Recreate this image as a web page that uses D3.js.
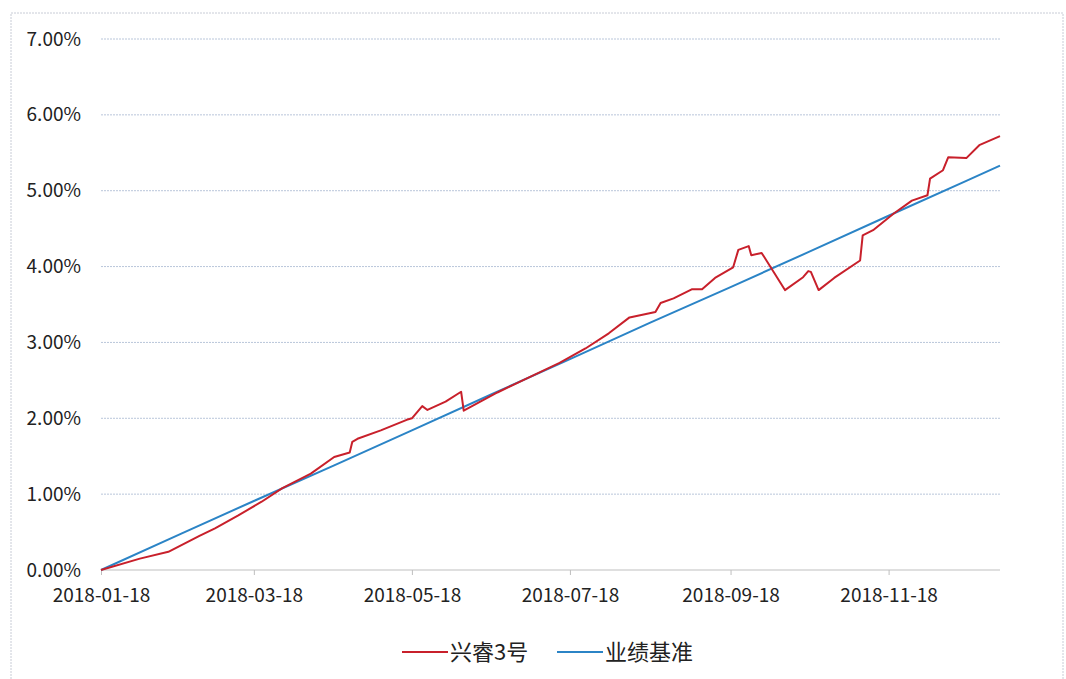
<!DOCTYPE html>
<html><head><meta charset="utf-8">
<script src="https://cdn.jsdelivr.net/npm/d3@7"></script>
<style>body{margin:0;background:#fff;} svg{display:block;}</style>
</head><body>
<svg id="c" width="1066" height="679"></svg>
<script>
const seriesNames = ["兴睿3号", "业绩基准"];
const redDates = ["2018-01-18","2018-02-02","2018-02-13","2018-02-25","2018-03-03","2018-03-12","2018-03-21","2018-03-29","2018-04-09","2018-04-18","2018-04-24","2018-04-25","2018-04-27","2018-05-06","2018-05-16","2018-05-18","2018-05-22","2018-05-24","2018-05-31","2018-06-06","2018-06-07","2018-06-20","2018-07-01","2018-07-14","2018-07-24","2018-08-02","2018-08-10","2018-08-20","2018-08-22","2018-08-27","2018-09-03","2018-09-07","2018-09-12","2018-09-19","2018-09-21","2018-09-25","2018-09-26","2018-09-30","2018-10-09","2018-10-16","2018-10-18","2018-10-19","2018-10-22","2018-10-28","2018-11-07","2018-11-08","2018-11-12","2018-11-20","2018-11-27","2018-12-03","2018-12-04","2018-12-09","2018-12-11","2018-12-18","2018-12-23","2018-12-31"];
const redValues = [0.00,0.15,0.24,0.45,0.55,0.72,0.90,1.08,1.27,1.49,1.55,1.69,1.73,1.84,1.98,2.00,2.16,2.11,2.22,2.35,2.10,2.34,2.52,2.73,2.92,3.12,3.33,3.40,3.52,3.58,3.70,3.70,3.85,3.99,4.22,4.27,4.15,4.18,3.69,3.86,3.94,3.93,3.69,3.85,4.08,4.41,4.48,4.70,4.87,4.94,5.16,5.27,5.44,5.43,5.60,5.72];
const blueDates = ["2018-01-18","2018-02-18","2018-03-18","2018-04-18","2018-05-18","2018-06-18","2018-07-18","2018-08-18","2018-09-18","2018-10-18","2018-11-18","2018-12-18","2018-12-31"];
const blueValues = [0.00,0.48,0.91,1.38,1.84,2.32,2.78,3.26,3.73,4.19,4.67,5.13,5.33];
const xTickLabels = ["2018-01-18","2018-03-18","2018-05-18","2018-07-18","2018-09-18","2018-11-18"];
const yTicks = [0,1,2,3,4,5,6,7];

const parse = d3.timeParse("%Y-%m-%d");
const svg = d3.select("#c");
const font = "'Noto Sans CJK SC','DejaVu Sans',sans-serif";

// outer frame
svg.append("rect").attr("x",11).attr("y",13).attr("width",1052).attr("height",700)
  .attr("fill","none").attr("stroke","#c8ccd6").attr("stroke-width",1).attr("stroke-dasharray","2,1");

const x = d3.scaleTime().domain([parse("2018-01-18"), parse("2018-12-31")]).range([101, 1000]);
const y = d3.scaleLinear().domain([0, 7]).range([570, 39]);

// gridlines
svg.append("g").selectAll("line").data(yTicks.filter(d=>d>0)).join("line")
  .attr("x1",101).attr("x2",1000).attr("y1",d=>y(d)).attr("y2",d=>y(d))
  .attr("stroke","#b9c6da").attr("stroke-width",1).attr("stroke-dasharray","2,1");

// y axis labels
const yAxis = d3.axisLeft(y).tickValues(yTicks).tickSize(0).tickPadding(0)
  .tickFormat(d => d3.format(".2f")(d) + "%");
const gy = svg.append("g").attr("transform","translate(81,0)").call(yAxis);
gy.select(".domain").remove();
gy.selectAll("text").attr("font-family",font).attr("font-size",19).attr("fill","#222");

// x axis
const xAxis = d3.axisBottom(x).tickValues(xTickLabels.map(parse)).tickSize(5).tickPadding(14)
  .tickFormat(d3.timeFormat("%Y-%m-%d"));
const gx = svg.append("g").attr("transform","translate(0,570)").call(xAxis);
gx.select(".domain").attr("stroke","#bfbfbf").attr("d","M101,0H1000");
gx.selectAll(".tick line").attr("stroke","#bfbfbf");
gx.selectAll("text").attr("font-family",font).attr("font-size",19).attr("fill","#222");

const line = d3.line().x(d=>x(d[0])).y(d=>y(d[1]));
const blue = blueDates.map((d,i)=>[parse(d), blueValues[i]]);
const red = redDates.map((d,i)=>[parse(d), redValues[i]]);

svg.append("path").datum(blue).attr("d",line).attr("fill","none")
  .attr("stroke","#2b84c6").attr("stroke-width",2);
svg.append("path").datum(red).attr("d",line).attr("fill","none")
  .attr("stroke","#c8202b").attr("stroke-width",2).attr("stroke-linejoin","round");

// legend
const legend = [{name:seriesNames[0], color:"#c8202b", x:402},{name:seriesNames[1], color:"#2b84c6", x:557}];
const lg = svg.append("g").selectAll("g").data(legend).join("g")
  .attr("transform",d=>`translate(${d.x},652)`);
lg.append("line").attr("x1",0).attr("x2",46).attr("y1",0).attr("y2",0)
  .attr("stroke",d=>d.color).attr("stroke-width",2);
lg.append("text").attr("x",48).attr("y",0).attr("dy","0.35em").text(d=>d.name)
  .attr("font-family",font).attr("font-size",22).attr("fill","#222");
</script>
</body></html>
